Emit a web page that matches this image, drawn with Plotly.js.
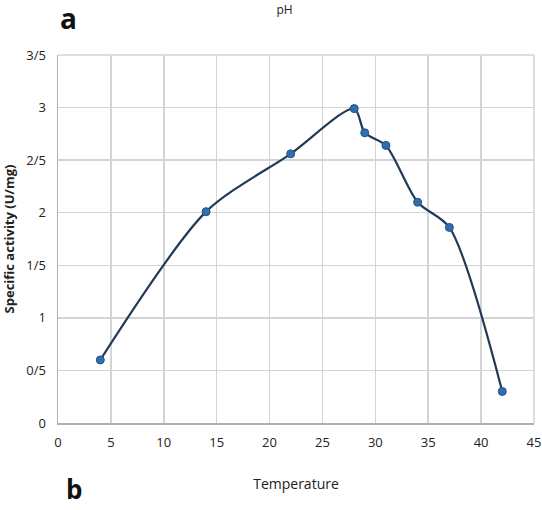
<!DOCTYPE html>
<html>
<head>
<meta charset="utf-8">
<script src="https://cdn.plot.ly/plotly-3.0.1.min.js"></script>
<style>html,body{margin:0;padding:0;background:#fff;}#chart{width:542px;height:510px;}</style>
</head>
<body>
<div id="chart"></div>
<script>
// Data
const temperature = [4, 14, 22, 28, 29, 31, 34, 37, 42];
const activity = [0.60, 2.01, 2.56, 2.99, 2.76, 2.64, 2.10, 1.86, 0.30];
const yTickVals = [0, 0.5, 1, 1.5, 2, 2.5, 3, 3.5];
const yTickText = ['0', '0/5', '1', '1/5', '2', '2/5', '3', '3/5'];
const xTickVals = [0, 5, 10, 15, 20, 25, 30, 35, 40, 45];

const font = 'Open Sans, sans-serif';

const trace = {
  x: temperature,
  y: activity,
  type: 'scatter',
  mode: 'lines+markers',
  line: {shape: 'spline', smoothing: 0.8, color: '#223a57', width: 2.2},
  marker: {color: '#2f6fb0', size: 8, line: {color: '#1f4f86', width: 1}},
  cliponaxis: false,
  hoverinfo: 'x+y'
};

const layout = {
  width: 542, height: 510,
  margin: {l: 58, r: 8, t: 55, b: 87},
  paper_bgcolor: '#ffffff', plot_bgcolor: '#ffffff',
  showlegend: false,
  title: {text: 'pH', x: 0.525, xanchor: 'center', y: 0.99, yanchor: 'top',
          font: {family: font, size: 12, color: '#222'}},
  xaxis: {
    range: [0, 45], tickvals: xTickVals, ticktext: xTickVals.map(String),
    showgrid: true, gridcolor: '#d4d4d4', gridwidth: 1.5,
    showline: true, linecolor: '#b0b0b0', linewidth: 2, mirror: false,
    zeroline: false, ticks: '', ticklabelstandoff: 6, ticklabeloverflow: 'allow',
    tickfont: {family: font, size: 13, color: '#222'},
    title: {text: 'Temperature', standoff: 30, font: {family: font, size: 14, color: '#222'}}
  },
  yaxis: {
    range: [0, 3.5], tickvals: yTickVals, ticktext: yTickText,
    showgrid: true, gridcolor: '#d4d4d4', gridwidth: 1.5,
    showline: true, linecolor: '#b0b0b0', linewidth: 1.5,
    zeroline: false, ticks: '', ticklabelstandoff: 8,
    tickfont: {family: font, size: 13, color: '#222'},
    title: {text: '<b>Specific activity (U/mg)</b>', standoff: 8, font: {family: font, size: 13, color: '#222'}}
  },
  shapes: [
    {type: 'line', xref: 'paper', yref: 'paper', x0: 0, x1: 1, y0: 1, y1: 1, line: {color: '#d4d4d4', width: 1.5}},
    {type: 'line', xref: 'paper', yref: 'paper', x0: 1, x1: 1, y0: 0, y1: 1, line: {color: '#d4d4d4', width: 1.5}}
  ],
  annotations: [
    {text: '<b>a</b>', xref: 'paper', yref: 'paper', x: 0.0, y: 1.1, xanchor: 'left', yanchor: 'middle', showarrow: false,
     font: {family: font, size: 28, color: '#111'}},
    {text: '<b>b</b>', xref: 'paper', yref: 'paper', x: 0.012, y: -0.18, xanchor: 'left', yanchor: 'middle', showarrow: false,
     font: {family: font, size: 26, color: '#111'}}
  ]
};

Plotly.newPlot('chart', [trace], layout, {displayModeBar: false, staticPlot: true});
</script>
</body>
</html>
